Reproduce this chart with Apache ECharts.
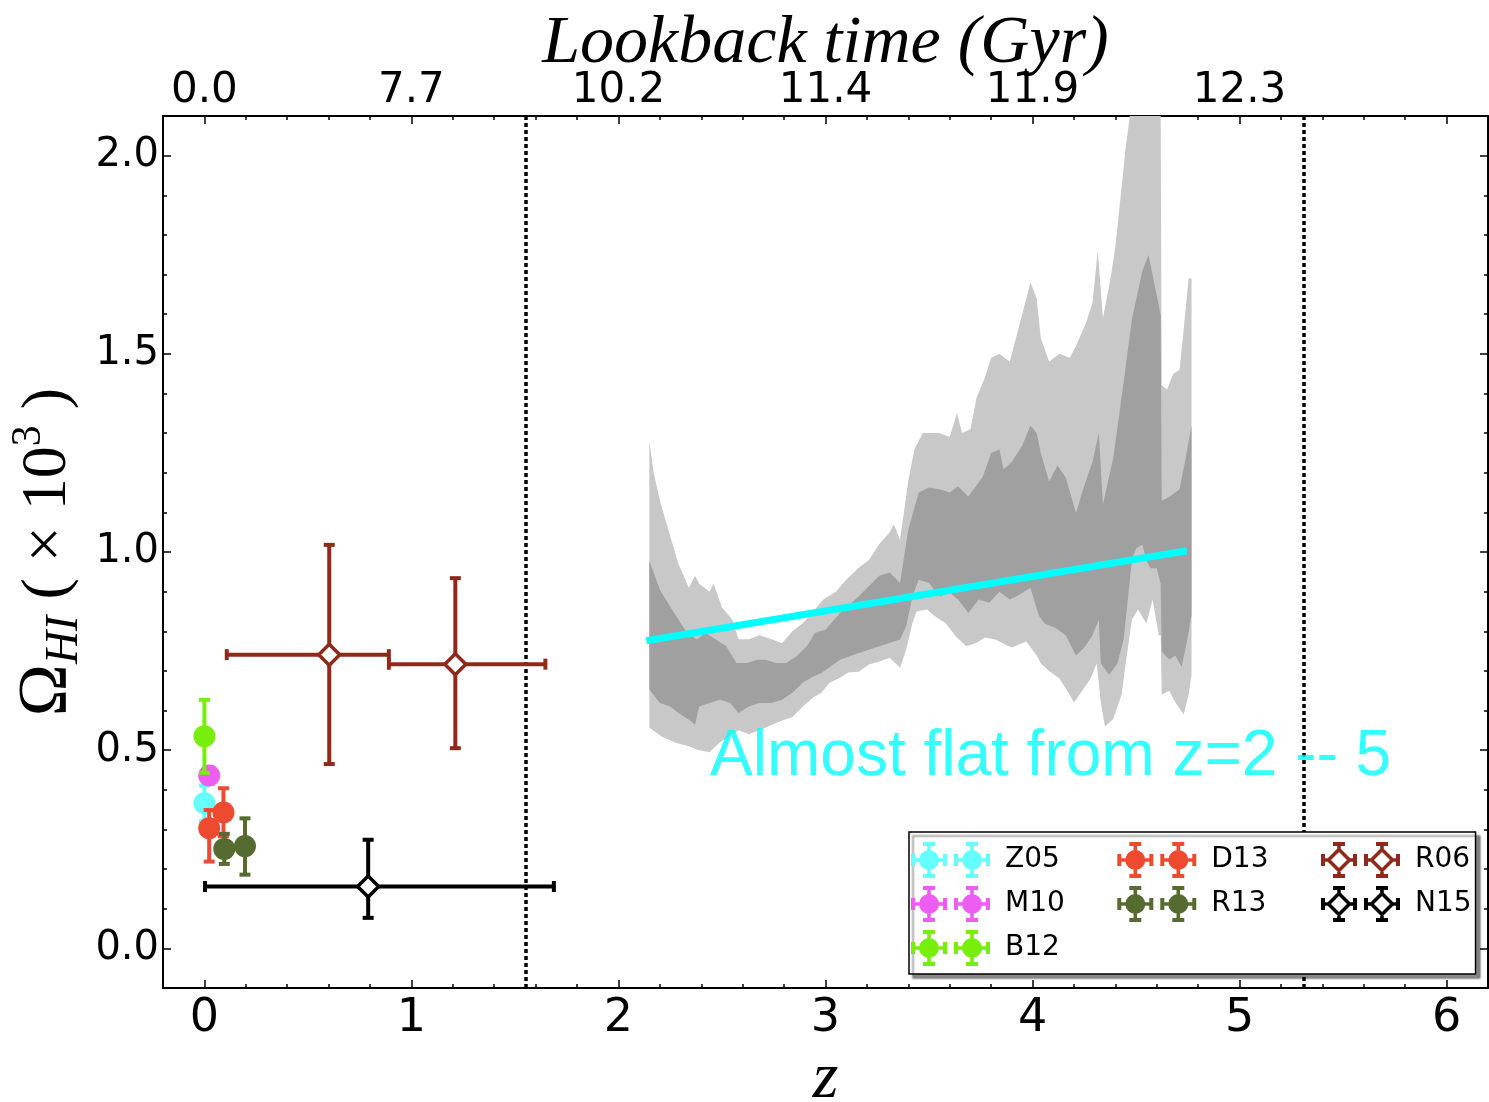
<!DOCTYPE html>
<html>
<head>
<meta charset="utf-8">
<script src="https://cdn.jsdelivr.net/npm/echarts@6/dist/echarts.min.js"></script>
<style>
  html, body { margin: 0; padding: 0; background: #fff; }
  #chart { width: 1489px; height: 1102px; }
</style>
</head>
<body>
<div id="chart"></div>
<script>
// axis ranges and tick labels
const zMin = -0.2, zMax = 6.2;
const yMin = -0.1, yMax = 2.1;
const zMajor = [0, 1, 2, 3, 4, 5, 6];
const zTickLabels = ['0', '1', '2', '3', '4', '5', '6'];
const lookbackTicks = [0, 1, 2, 3, 4, 5];
const lookbackLabels = ['0.0', '7.7', '10.2', '11.4', '11.9', '12.3'];
const yMajor = [0, 0.5, 1.0, 1.5, 2.0];
const yTickLabels = ['0.0', '0.5', '1.0', '1.5', '2.0'];

// minor tick positions
const zMinor = [];
for (let i = 0; i <= 31; i++) {
  const v = +(i * 0.2).toFixed(1);
  if (v < zMax && Math.abs(v - Math.round(v)) > 1e-6) zMinor.push(v);
}
const yMinor = [];
for (let i = 1; i <= 20; i++) {
  const v = +(i * 0.1).toFixed(1);
  if (Math.abs(v * 2 - Math.round(v * 2)) > 1e-6) yMinor.push(v);
}

// measurements: [z, omega, yLow, yHigh, zLow, zHigh]
const z05 = [[0.0, 0.366, 0.321, 0.411, null, null]];
const m10 = [[0.023, 0.436, 0.416, 0.456, null, null]];
const b12 = [[0.0, 0.535, 0.443, 0.627, null, null]];
const d13 = [[0.023, 0.303, 0.219, 0.349, null, null], [0.092, 0.343, 0.283, 0.404, null, null]];
const r13 = [[0.096, 0.251, 0.213, 0.289, null, null], [0.196, 0.258, 0.186, 0.328, null, null]];
const r06 = [[0.603, 0.741, 0.465, 1.018, 0.108, 0.891], [1.212, 0.717, 0.505, 0.934, 0.891, 1.647]];
const n15 = [[0.791, 0.156, 0.077, 0.274, 0.003, 1.688]];

// fitted line
const fitLine = [[2.135, 0.776], [4.745, 1.003]];
// redshift limits (dotted lines)
const zLimits = [1.548, 5.306];

// confidence bands, outer (light) and inner (dark)
const outerHi = [[2.149,1.28],[2.17,1.20],[2.20,1.13],[2.25,1.04],[2.29,0.97],[2.34,0.91],[2.37,0.94],[2.39,0.92],[2.44,0.90],[2.46,0.92],[2.50,0.86],[2.55,0.83],[2.58,0.78],[2.63,0.78],[2.68,0.79],[2.74,0.78],[2.79,0.77],[2.84,0.80],[2.89,0.82],[2.94,0.85],[2.99,0.88],[3.05,0.90],[3.10,0.93],[3.16,0.96],[3.21,0.98],[3.26,1.02],[3.31,1.05],[3.33,1.07],[3.36,1.03],[3.40,1.18],[3.43,1.26],[3.47,1.30],[3.50,1.30],[3.55,1.30],[3.60,1.29],[3.635,1.35],[3.66,1.30],[3.70,1.31],[3.73,1.39],[3.77,1.44],[3.80,1.49],[3.84,1.50],[3.89,1.48],[3.91,1.52],[3.95,1.60],[3.99,1.68],[4.02,1.64],[4.04,1.54],[4.08,1.48],[4.13,1.50],[4.18,1.49],[4.21,1.52],[4.26,1.58],[4.29,1.63],[4.315,1.76],[4.34,1.59],[4.38,1.70],[4.40,1.77],[4.42,1.87],[4.45,2.02],[4.47,2.1],[4.619,2.1],[4.624,1.42],[4.65,1.41],[4.68,1.45],[4.71,1.46],[4.73,1.56],[4.754,1.69],[4.768,1.69]];
const outerLo = [[2.149,0.557],[2.21,0.534],[2.28,0.518],[2.34,0.51],[2.39,0.50],[2.44,0.495],[2.49,0.52],[2.58,0.55],[2.63,0.54],[2.68,0.55],[2.79,0.575],[2.84,0.584],[2.89,0.61],[2.94,0.633],[2.98,0.645],[3.02,0.67],[3.07,0.683],[3.11,0.696],[3.16,0.698],[3.21,0.716],[3.26,0.724],[3.31,0.733],[3.36,0.708],[3.39,0.754],[3.42,0.821],[3.44,0.85],[3.49,0.855],[3.53,0.837],[3.58,0.821],[3.63,0.787],[3.68,0.762],[3.73,0.771],[3.77,0.784],[3.82,0.779],[3.87,0.766],[3.90,0.759],[3.97,0.774],[4.02,0.739],[4.04,0.719],[4.08,0.70],[4.13,0.681],[4.18,0.64],[4.20,0.62],[4.24,0.65],[4.28,0.68],[4.31,0.719],[4.33,0.62],[4.35,0.559],[4.39,0.579],[4.43,0.64],[4.45,0.719],[4.48,0.83],[4.51,0.855],[4.55,0.819],[4.58,0.88],[4.61,0.79],[4.619,0.79],[4.624,0.64],[4.66,0.65],[4.69,0.62],[4.73,0.59],[4.754,0.64],[4.768,0.69]];
const innerHi = [[2.149,0.977],[2.20,0.905],[2.25,0.862],[2.28,0.837],[2.33,0.796],[2.38,0.779],[2.42,0.796],[2.47,0.779],[2.52,0.762],[2.57,0.72],[2.62,0.72],[2.67,0.728],[2.71,0.728],[2.76,0.72],[2.81,0.72],[2.86,0.737],[2.91,0.762],[2.95,0.796],[3.00,0.804],[3.07,0.846],[3.16,0.888],[3.26,0.94],[3.31,0.948],[3.36,0.922],[3.40,1.057],[3.45,1.15],[3.50,1.163],[3.55,1.158],[3.60,1.15],[3.64,1.166],[3.69,1.14],[3.76,1.19],[3.80,1.25],[3.84,1.259],[3.86,1.208],[3.90,1.228],[3.95,1.268],[3.99,1.319],[4.02,1.30],[4.04,1.249],[4.08,1.178],[4.12,1.218],[4.16,1.188],[4.21,1.099],[4.25,1.168],[4.29,1.228],[4.32,1.30],[4.34,1.12],[4.39,1.238],[4.44,1.428],[4.48,1.587],[4.53,1.708],[4.56,1.749],[4.60,1.648],[4.619,1.597],[4.624,1.129],[4.66,1.139],[4.71,1.158],[4.74,1.238],[4.768,1.319]];
const innerLo = [[2.149,0.653],[2.20,0.619],[2.25,0.61],[2.29,0.594],[2.34,0.577],[2.37,0.564],[2.39,0.61],[2.44,0.619],[2.49,0.627],[2.54,0.619],[2.58,0.594],[2.63,0.61],[2.68,0.619],[2.74,0.619],[2.79,0.627],[2.84,0.645],[2.89,0.67],[2.94,0.686],[2.98,0.695],[3.07,0.728],[3.16,0.745],[3.26,0.762],[3.36,0.779],[3.39,0.813],[3.42,0.888],[3.45,0.93],[3.50,0.922],[3.55,0.888],[3.60,0.897],[3.64,0.88],[3.69,0.846],[3.74,0.88],[3.79,0.872],[3.84,0.90],[3.89,0.88],[3.93,0.89],[3.99,0.91],[4.03,0.84],[4.06,0.819],[4.11,0.809],[4.16,0.79],[4.21,0.739],[4.25,0.759],[4.29,0.79],[4.32,0.83],[4.33,0.719],[4.37,0.69],[4.41,0.719],[4.44,0.779],[4.48,0.979],[4.50,1.009],[4.53,1.019],[4.55,0.979],[4.57,0.959],[4.60,0.959],[4.619,0.919],[4.624,0.749],[4.66,0.729],[4.69,0.739],[4.72,0.71],[4.74,0.759],[4.768,0.84]];

const noteText = 'Almost flat from z=2 -- 5';
const notePos = [[2.44, 0.481]];

const datasets = [
  { name: 'Z05', data: z05, color: '#66ffff', hollow: false },
  { name: 'M10', data: m10, color: '#ee5df2', hollow: false },
  { name: 'B12', data: b12, color: '#77ee0c', hollow: false },
  { name: 'D13', data: d13, color: '#ee4a30', hollow: false },
  { name: 'R13', data: r13, color: '#556b2f', hollow: false },
  { name: 'R06', data: r06, color: '#8f2a1b', hollow: true },
  { name: 'N15', data: n15, color: '#000000', hollow: true }
];
// legend columns (an empty name starts a new column)
const legendOrder = ['Z05', 'M10', 'B12', 'D13', 'R13', '', 'R06', 'N15'];
const legendLastColumn = ['R06', 'N15'];

// legend icon: two markers with error caps
function rectP(x0, y0, x1, y1) {
  return 'M' + x0 + ' ' + y0 + 'L' + x1 + ' ' + y0 + 'L' + x1 + ' ' + y1 + 'L' + x0 + ' ' + y1 + 'Z';
}
function legendIcon(hollow) {
  let d = '';
  [18, 61].forEach(function (cx) {
    const cy = 18;
    if (hollow) {
      d += 'M' + cx + ' ' + (cy - 13) + 'L' + (cx + 13) + ' ' + cy + 'L' + cx + ' ' + (cy + 13) + 'L' + (cx - 13) + ' ' + cy + 'Z';
      d += 'M' + cx + ' ' + (cy - 8) + 'L' + (cx - 8) + ' ' + cy + 'L' + cx + ' ' + (cy + 8) + 'L' + (cx + 8) + ' ' + cy + 'Z';
      d += rectP(cx - 1.8, 2, cx + 1.8, cy - 10);
      d += rectP(cx - 1.8, cy + 10, cx + 1.8, 34);
      d += rectP(cx - 16, cy - 1.8, cx - 10, cy + 1.8);
      d += rectP(cx + 10, cy - 1.8, cx + 16, cy + 1.8);
    } else {
      d += 'M' + (cx + 10) + ' ' + cy + 'A10 10 0 1 1 ' + (cx - 10) + ' ' + cy + 'A10 10 0 1 1 ' + (cx + 10) + ' ' + cy + 'Z';
      d += rectP(cx - 1.8, 2, cx + 1.8, 34);
      d += rectP(cx - 16, cy - 1.8, cx + 16, cy + 1.8);
    }
    d += rectP(cx - 6, 0, cx + 6, 4);
    d += rectP(cx - 6, 32, cx + 6, 36);
    d += rectP(cx - 18, 12, cx - 14, 24);
    d += rectP(cx + 14, 12, cx + 18, 24);
  });
  return 'path://' + d;
}

// error bars drawn through the axes
function errRender(color) {
  return function (params, api) {
    const z = api.value(0), y = api.value(1);
    const c = api.coord([z, y]);
    const lo = api.coord([z, api.value(2)]);
    const hi = api.coord([z, api.value(3)]);
    const cap = 5.5;
    const st = { stroke: color, lineWidth: 4 };
    const kids = [
      { type: 'line', shape: { x1: c[0], y1: lo[1], x2: c[0], y2: hi[1] }, style: st },
      { type: 'line', shape: { x1: c[0] - cap, y1: lo[1], x2: c[0] + cap, y2: lo[1] }, style: st },
      { type: 'line', shape: { x1: c[0] - cap, y1: hi[1], x2: c[0] + cap, y2: hi[1] }, style: st }
    ];
    const xl = api.value(4), xh = api.value(5);
    if (isFinite(xl) && isFinite(xh)) {
      const l = api.coord([xl, y]), h = api.coord([xh, y]);
      kids.push({ type: 'line', shape: { x1: l[0], y1: c[1], x2: h[0], y2: c[1] }, style: st });
      kids.push({ type: 'line', shape: { x1: l[0], y1: c[1] - cap, x2: l[0], y2: c[1] + cap }, style: st });
      kids.push({ type: 'line', shape: { x1: h[0], y1: c[1] - cap, x2: h[0], y2: c[1] + cap }, style: st });
    }
    return { type: 'group', children: kids };
  };
}

function bandSeries(name, hi, lo, color, z) {
  const ring = hi.concat(lo.slice().reverse());
  return {
    type: 'custom', name: name, silent: true, clip: true, z: z,
    data: ring, encode: { x: 0, y: 1 },
    renderItem: function (params, api) {
      if (params.dataIndex !== 0) return null;
      return {
        type: 'polygon',
        shape: { points: ring.map(function (p) { return api.coord(p); }) },
        style: { fill: color }
      };
    }
  };
}

const series = [
  bandSeries('band95', outerHi, outerLo, '#c8c8c8', 2),
  bandSeries('band68', innerHi, innerLo, '#a0a0a0', 3),
  {
    type: 'line', name: 'fit', data: fitLine, symbol: 'none', z: 8, silent: true,
    lineStyle: { color: '#00ffff', width: 7, cap: 'butt' },
    markLine: {
      silent: true, symbol: ['none', 'none'], label: { show: false },
      lineStyle: { color: '#000', width: 3.5, type: [4, 3] },
      data: zLimits.map(function (v) { return { xAxis: v }; })
    }
  }
];

datasets.forEach(function (ds, k) {
  series.push({
    type: 'scatter', name: ds.name, data: ds.data, encode: { x: 0, y: 1 },
    symbol: ds.hollow ? 'diamond' : 'circle',
    symbolSize: ds.hollow ? 21 : 22,
    itemStyle: ds.hollow
      ? { color: '#fff', borderColor: ds.color, borderWidth: 3.5, opacity: 1 }
      : { color: ds.color, opacity: 1 },
    z: 11 + 2 * k, silent: true
  });
  series.push({
    type: 'custom', name: ds.name, data: ds.data,
    dimensions: ['z', 'y', 'yLo', 'yHi', 'xLo', 'xHi'],
    encode: { x: 0, y: 1 }, renderItem: errRender(ds.color),
    z: 10 + 2 * k, silent: true, clip: false
  });
});

series.push({
  type: 'scatter', name: 'note', data: notePos, symbolSize: 1, z: 40, silent: true,
  itemStyle: { color: 'rgba(0,0,0,0)' },
  label: {
    show: true, position: 'right', distance: 0, formatter: noteText,
    fontFamily: 'Liberation Sans', fontSize: 64, color: '#00ffff'
  }
});

const tickLine = { color: '#000', width: 1.5 };
const frameLine = { color: '#000', width: 2 };
const tickFont = { fontFamily: 'DejaVu Sans', color: '#000' };

function minorAxis(position, vals) {
  const horiz = position === 'top' || position === 'bottom';
  return {
    type: 'value', position: position,
    min: horiz ? zMin : yMin, max: horiz ? zMax : yMax,
    axisLine: { show: false, onZero: false },
    axisTick: { show: true, inside: true, length: 4, lineStyle: tickLine, customValues: vals },
    axisLabel: { show: false }, splitLine: { show: false }, minorTick: { show: false }
  };
}

const option = {
  animation: false,
  backgroundColor: '#fff',
  grid: { left: 163, top: 116, right: 1, bottom: 114, containLabel: false, outerBoundsMode: 'none' },
  legend: {
    orient: 'vertical', left: 909, top: 832, height: 130,
    padding: [10, 4, 8, 2], itemGap: 8, itemWidth: 79, itemHeight: 36,
    backgroundColor: '#fff', borderColor: '#000', borderWidth: 1.5, borderRadius: 0,
    shadowColor: 'rgba(0,0,0,0.45)', shadowOffsetX: 4, shadowOffsetY: 4, shadowBlur: 2,
    selectedMode: false, z: 100,
    textStyle: { fontFamily: 'DejaVu Sans', fontSize: 28, color: '#000', padding: [0, 0, 0, 10] },
    // trailing spaces widen the first two columns
    formatter: function (name) {
      return legendLastColumn.indexOf(name) >= 0 ? name : name + '\u00a0\u00a0\u00a0\u00a0\u00a0';
    },
    data: legendOrder.map(function (name) {
      if (name === '') return '';
      const ds = datasets.find(function (d) { return d.name === name; });
      return {
        name: name, icon: legendIcon(ds.hollow),
        itemStyle: { color: ds.color, borderWidth: 0, opacity: 1 }
      };
    })
  },
  xAxis: [
    {
      type: 'value', position: 'bottom', min: zMin, max: zMax,
      axisLine: { show: true, onZero: false, lineStyle: frameLine },
      axisTick: { show: true, inside: true, length: 8, lineStyle: tickLine, customValues: zMajor },
      axisLabel: Object.assign({ show: true, customValues: zMajor, fontSize: 46, margin: 8,
        formatter: function (v) { return zTickLabels[zMajor.indexOf(v)]; } }, tickFont),
      splitLine: { show: false }, minorTick: { show: false },
      name: 'z', nameLocation: 'middle', nameGap: 58,
      nameTextStyle: { fontFamily: 'Liberation Serif', fontStyle: 'italic', fontSize: 66, color: '#000' }
    },
    minorAxis('bottom', zMinor),
    {
      type: 'value', position: 'top', min: zMin, max: zMax,
      axisLine: { show: true, onZero: false, lineStyle: frameLine },
      axisTick: { show: true, inside: true, length: 8, lineStyle: tickLine, customValues: zMajor },
      axisLabel: Object.assign({ show: true, customValues: lookbackTicks, fontSize: 42, margin: 4,
        formatter: function (v) { return lookbackLabels[lookbackTicks.indexOf(v)]; } }, tickFont),
      splitLine: { show: false }, minorTick: { show: false },
      name: 'Lookback time (Gyr)', nameLocation: 'middle', nameGap: 38, nameMoveOverlap: false,
      nameTextStyle: { fontFamily: 'Liberation Serif', fontStyle: 'italic', fontSize: 68, color: '#000' }
    },
    minorAxis('top', zMinor)
  ],
  yAxis: [
    {
      type: 'value', position: 'left', min: yMin, max: yMax,
      axisLine: { show: true, onZero: false, lineStyle: frameLine },
      axisTick: { show: true, inside: true, length: 8, lineStyle: tickLine, customValues: yMajor },
      axisLabel: Object.assign({ show: true, customValues: yMajor, fontSize: 40, margin: 4,
        formatter: function (v) { return yTickLabels[yMajor.indexOf(v)]; } }, tickFont),
      splitLine: { show: false }, minorTick: { show: false },
      name: '{om|Ω}{sub|HI}{n| ( × 10}{sup|3}{n| )}',
      nameLocation: 'middle', nameGap: 75, nameRotate: 90, nameMoveOverlap: false,
      nameTextStyle: {
        fontFamily: 'Liberation Serif', fontSize: 64, color: '#000', lineHeight: 80,
        rich: {
          om: { fontFamily: 'Liberation Serif', fontSize: 70, color: '#000' },
          sub: { fontFamily: 'Liberation Serif', fontStyle: 'italic', fontSize: 46, color: '#000', verticalAlign: 'bottom' },
          n: { fontFamily: 'Liberation Serif', fontSize: 64, color: '#000' },
          sup: { fontFamily: 'Liberation Serif', fontSize: 42, color: '#000', verticalAlign: 'top' }
        }
      }
    },
    minorAxis('left', yMinor),
    {
      type: 'value', position: 'right', min: yMin, max: yMax,
      axisLine: { show: true, onZero: false, lineStyle: frameLine },
      axisTick: { show: true, inside: true, length: 8, lineStyle: tickLine, customValues: yMajor },
      axisLabel: { show: false }, splitLine: { show: false }, minorTick: { show: false }
    },
    minorAxis('right', yMinor)
  ],
  series: series
};

const chart = echarts.init(document.getElementById('chart'));
chart.setOption(option);
</script>
</body>
</html>
